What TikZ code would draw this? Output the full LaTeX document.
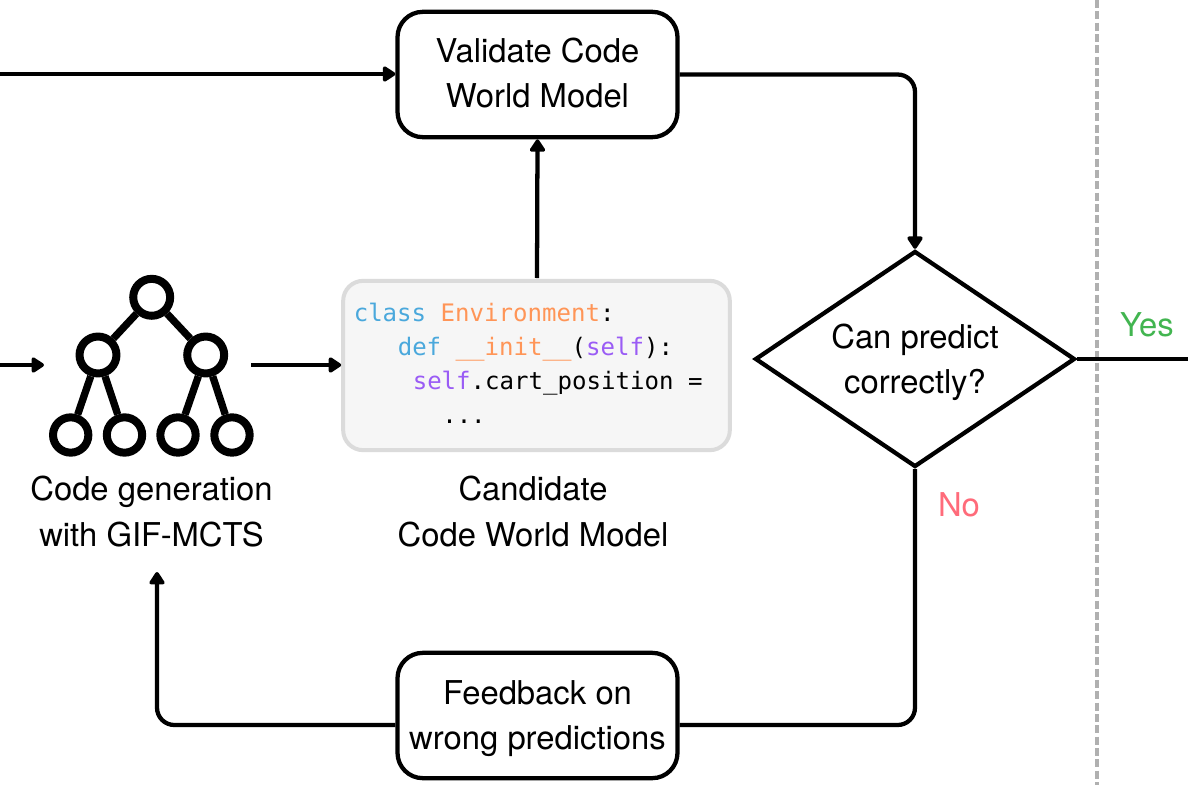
\documentclass[tikz,border=0pt]{standalone}
\usepackage{fontspec}
\setmainfont{TeX Gyre Heros}
\setmonofont{DejaVu Sans Mono}
\usetikzlibrary{arrows.meta,shapes.geometric}
\definecolor{codeblue}{RGB}{74,168,220}
\definecolor{codeorange}{RGB}{255,149,87}
\definecolor{codepurple}{RGB}{154,92,245}
\tikzset{
  flowbox/.style={draw,line width=3.2pt,rounded corners=19pt,minimum width=210pt,minimum height=94pt,inner sep=0pt},
  flowtext/.style={inner sep=0pt,align=center,font=\fontsize{24.6}{34.2}\selectfont},
  flowarrow/.style={line width=3.2pt,rounded corners=13pt,-{Triangle[length=10.5pt,width=13pt,round]}},
  treenode/.style={draw,circle,line width=6pt,inner sep=0pt,minimum size=27.7pt},
  treeleaf/.style={treenode,minimum size=26.5pt},
  treeedge/.style={line width=5.5pt},
  codeline/.style={anchor=base west,inner sep=0pt,font=\ttfamily\fontsize{18.05}{18}\selectfont},
}
\begin{document}
\begin{tikzpicture}[x=0.75pt,y=0.75pt,yscale=-1,xscale=1]
    \useasboundingbox (0,0) rectangle (1188,785);
    % Separator
    \draw [color={rgb,255:red,176;green,176;blue,176},line width=2.3pt,dash pattern=on 6pt off 2.5pt] (1097,0) -- (1097,785);

    % Boxes
    \node (validate) [flowbox] at (537.5,74.5) {};
    \node (feedback) [flowbox] at (537.5,715.5) {};
    \node (check) [draw,diamond,shape aspect=1.48,line width=3.2pt,inner sep=0pt,minimum width=240pt,minimum height=162pt] at (915,359) {};
    \node (code) [draw=black!14,fill=black!3.5,line width=3pt,rounded corners=15pt,minimum width=290pt,minimum height=127pt,inner sep=0pt] at (536.5,365.5) {};

    % Code lines
    \node (codea) [codeline] at (353.5,321) {\textcolor{codeblue}{class} \textcolor{codeorange}{Environment}:};
    \node (codeb) [codeline] at (397.5,355) {\textcolor{codeblue}{def} \textcolor{codeorange}{\_\_init\_\_}(\textcolor{codepurple}{self}):};
    \node (codec) [codeline] at (412.5,389) {\textcolor{codepurple}{self}.cart\_position =};
    \node (coded) [codeline] at (442,423) {...};

    % Tree
    \node (root) [treenode] at (151.7,297.3) {};
    \node (midl) [treenode] at (98,355) {};
    \node (midr) [treenode] at (205.7,355) {};
    \node (leafa) [treeleaf] at (70.7,435) {};
    \node (leafb) [treeleaf] at (124.5,435) {};
    \node (leafc) [treeleaf] at (178,435) {};
    \node (leafd) [treeleaf] at (232,435) {};
    \draw [treeedge] (root) -- (midl);
    \draw [treeedge] (root) -- (midr);
    \draw [treeedge] (midl) -- (leafa);
    \draw [treeedge] (midl) -- (leafb);
    \draw [treeedge] (midr) -- (leafc);
    \draw [treeedge] (midr) -- (leafd);

    % Text Node
    \node (validatetext) [flowtext] at (537.5,73) {Validate Code\\World Model};
    \node (feedbacktext) [flowtext] at (537.5,718.5) {Feedback on\\wrong predictions};
    \node (checktext) [flowtext] at (915,362.5) {Can predict\\correctly?};
    \node (gen) [flowtext] at (151.5,511.5) {Code generation\\with GIF-MCTS};
    \node (candidate) [flowtext] at (533,511.5) {Candidate\\Code World Model};
    \node (yes) [inner sep=0pt,text={rgb,255:red,66;green,181;blue,80},font=\fontsize{24.6}{30}\selectfont] at (1147,325) {Yes};
    \node (no) [inner sep=0pt,text={rgb,255:red,255;green,107;blue,122},font=\fontsize{24.6}{30}\selectfont] at (959,505) {No};

    % Free ends
    \coordinate (topin) at (0,74);
    \coordinate (midin) at (0,365);
    \coordinate (midinend) at (44,365);
    \coordinate (treeout) at (251,365);
    \coordinate (codeout) at (537,278);
    \coordinate (yesout) at (1188,359);
    \coordinate (genin) at (157,572);
    \coordinate (lowrow) at (537,725);

    % Connectors
    \draw [flowarrow] (topin) -- (validate.west |- topin);
    \draw [flowarrow] (midin) -- (midinend);
    \draw [flowarrow] (treeout) -- (code.west |- treeout);
    \draw [flowarrow] (codeout) -- (validate.south);
    \draw [flowarrow] (validate.east) -| (check.north);
    \draw [line width=3.2pt] (check.east) -- (yesout);
    \draw [flowarrow,-] (check.south) |- (feedback.east |- lowrow);
    \draw [flowarrow] (feedback.west |- lowrow) -| (genin);
\end{tikzpicture}
\end{document}
